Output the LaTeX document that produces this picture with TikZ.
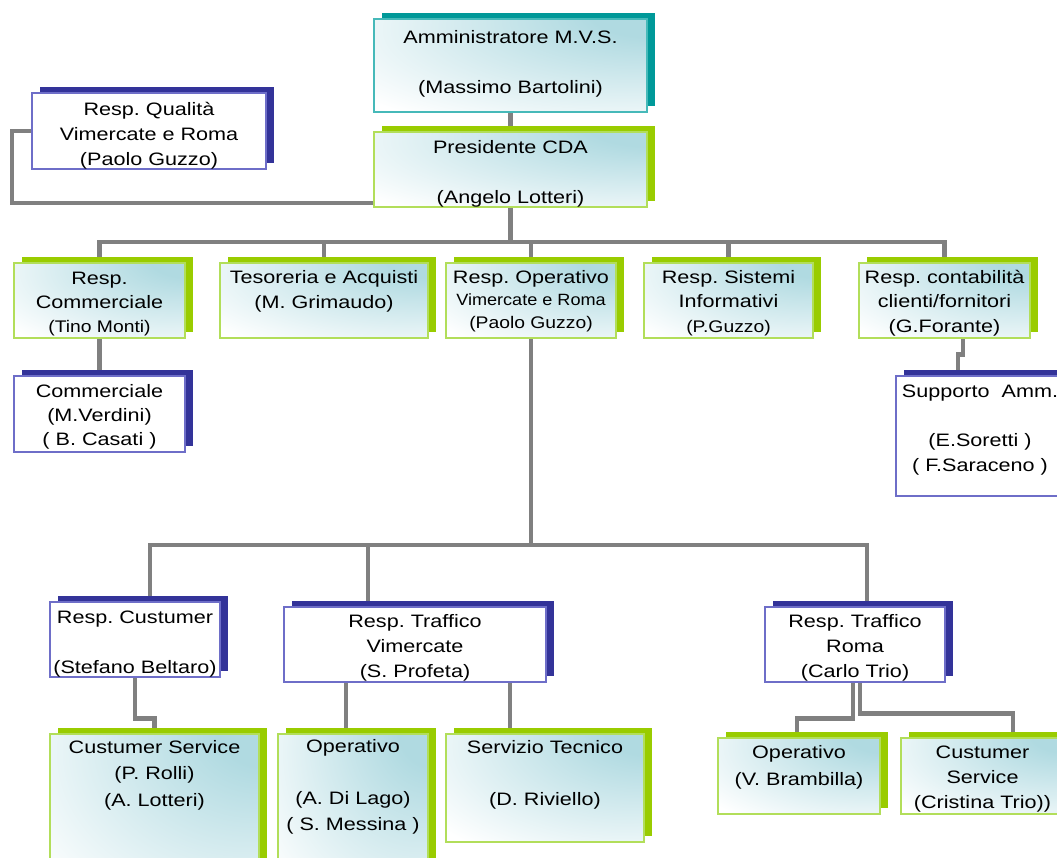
\documentclass[tikz,border=0pt]{standalone}
\usepackage{fontspec}
\setmainfont[FakeStretch=1.2]{Liberation Sans}
\newfontfamily\narfam[FakeStretch=1.15]{Liberation Sans}
\newfontfamily\narfamb[FakeStretch=1.11]{Liberation Sans}
\usetikzlibrary{shadows}
\pgfdeclarelayer{bg}
\pgfsetlayers{bg,main}
\definecolor{cgray}{RGB}{128,128,128}
\definecolor{gshadow}{RGB}{153,204,0}
\definecolor{gborder}{RGB}{178,222,90}
\definecolor{tshadow}{RGB}{0,153,153}
\definecolor{tborder}{RGB}{70,185,185}
\definecolor{nshadow}{RGB}{51,51,153}
\definecolor{nborder}{RGB}{110,110,200}
\definecolor{lteal}{RGB}{176,218,225}
\pgfdeclareradialshading{trshade}{\pgfpoint{30bp}{30bp}}{color(0bp)=(lteal); color(12bp)=(lteal); color(55bp)=(white); color(120bp)=(white)}
\newcommand\hs[1]{\rule{0pt}{#1pt}}
\newcommand\ds[1]{\rule[-#1pt]{0pt}{#1pt}}
\newcommand\narrowtxt{\narfam\fontsize{16.8}{22}\selectfont}
\newcommand\narrowtxtb{\narfamb\fontsize{16.3}{22}\selectfont}
\newcommand\bsk[1]{\fontsize{18}{#1}\selectfont\frenchspacing}
\frenchspacing
\tikzset{
  box/.style={rectangle, inner sep=0pt, align=center, line width=1.4pt, font=\bsk{25}},
  gbox/.style={box, draw=gborder, shade, shading=trshade,
    general shadow={fill=gshadow, shadow xshift=7.5pt, shadow yshift=6pt}},
  tbox/.style={box, draw=tborder, shade, shading=trshade,
    general shadow={fill=tshadow, shadow xshift=7.5pt, shadow yshift=6pt}},
  nbox/.style={box, draw=nborder, fill=white,
    general shadow={fill=nshadow, shadow xshift=7.5pt, shadow yshift=6pt}},
  link/.style={draw=cgray, line width=4.8pt}
}
\begin{document}
\begin{tikzpicture}[x=1pt,y=-1pt]
\useasboundingbox (0,0) rectangle (1057,857);
\begin{pgfonlayer}{bg}
\fill[white] (0,0) rectangle (1057,857);
\end{pgfonlayer}

% top
\node[tbox, minimum width=273pt, minimum height=93pt] (amm) at (510.5,65.5)
  {\hs{14}Amministratore M.V.S.\\ \\(Massimo Bartolini)\ds{9}};
\node[gbox, minimum width=273pt, minimum height=75pt] (pres) at (510.5,169.5)
  {\hs{21}Presidente CDA\\ \\(Angelo Lotteri)\ds{4}};
\node[nbox, minimum width=234pt, minimum height=76pt] (qual) at (149,131)
  {\hs{22}Resp. Qualità\\Vimercate e Roma\\(Paolo Guzzo)\ds{4}};

% row 2
\node[gbox, minimum width=171pt, minimum height=75pt, font=\bsk{24}] (rcomm) at (99.5,300.5)
  {\hs{19}Resp.\\Commerciale\\{\narrowtxt (Tino Monti)}\ds{4}};
\node[gbox, minimum width=208pt, minimum height=75pt] (tes) at (324,300.5)
  {\hs{14}Tesoreria e Acquisti\\(M. Grimaudo)\ds{24}};
\node[gbox, minimum width=170pt, minimum height=75pt, font=\bsk{22.5}] (rop) at (531,300.5)
  {\hs{14}Resp. Operativo\\{\narrowtxtb Vimercate e Roma}\\{\narrowtxt (Paolo Guzzo)}\ds{4}};
\node[gbox, minimum width=169pt, minimum height=75pt, font=\bsk{24.5}] (rsis) at (728.5,300.5)
  {\hs{18}Resp. Sistemi\\Informativi\\{\narrowtxt (P.Guzzo)}\ds{4}};
\node[gbox, minimum width=171pt, minimum height=75pt, font=\bsk{24.5}] (rcont) at (944.5,300.5)
  {\hs{18}Resp. contabilità\\clienti/fornitori\\(G.Forante)\ds{4}};

% row 3
\node[nbox, minimum width=171pt, minimum height=76pt, font=\bsk{24}] (comm) at (99.5,414)
  {\hs{18}Commerciale\\(M.Verdini)\\( B. Casati )\ds{4}};
\node[nbox, minimum width=168pt, minimum height=120pt, font=\bsk{24.67}] (supp) at (980,436)
  {\hs{14}Supporto\ \ Amm.\\ \\(E.Soretti )\\( F.Saraceno )\ds{18}};

% row 4
\node[nbox, minimum width=170pt, minimum height=75pt] (rcust) at (135,639.5)
  {\hs{21}Resp. Custumer\\ \\(Stefano Beltaro)\ds{4}};
\node[nbox, minimum width=262pt, minimum height=75pt] (vim) at (415,644.5)
  {\hs{19}Resp. Traffico\\Vimercate\\(S. Profeta)\ds{4}};
\node[nbox, minimum width=180pt, minimum height=75pt] (roma) at (855,644.5)
  {\hs{19}Resp. Traffico\\Roma\\(Carlo Trio)\ds{4}};

% row 5
\node[gbox, minimum width=209pt, minimum height=166pt, font=\bsk{26.5}] (csr) at (154.5,817)
  {\hs{14}Custumer Service\\(P. Rolli)\\(A. Lotteri)\ds{89}};
\node[gbox, minimum width=150pt, minimum height=166pt, font=\bsk{25.7}] (dilago) at (353,817)
  {\hs{14}Operativo\\ \\(A. Di Lago)\\( S. Messina )\ds{65}};
\node[gbox, minimum width=198pt, minimum height=108pt, font=\bsk{26}] (serv) at (545,788)
  {\hs{14}Servizio Tecnico\\ \\(D. Riviello)\ds{32}};
\node[gbox, minimum width=162pt, minimum height=76pt, font=\bsk{27}] (bram) at (799,776)
  {\hs{14}Operativo\\(V. Brambilla)\ds{23}};
\node[gbox, minimum width=163pt, minimum height=76pt] (cris) at (982.5,776)
  {\hs{18}Custumer\\Service\\(Cristina Trio))\ds{4}};

% connectors
\coordinate (bus1) at (510.5,242);
\coordinate (bus2) at (531,545);
\coordinate (qcorner) at (12,203);
\begin{pgfonlayer}{bg}
\draw[link] (amm) -- (pres);
\draw[link] (pres.south) -- (bus1);
\draw[link] (bus1) -| (rcomm.north);
\draw[link] (bus1) -| (tes.north);
\draw[link] (bus1) -| (rop.north);
\draw[link] (bus1) -| (rsis.north);
\draw[link] (bus1) -| (rcont.north);
\draw[link] (qual.west) -| (qcorner) -- (qcorner -| pres.west);
\draw[link] (rcomm.south) -- (comm.north);
\draw[link] ([xshift=18.5pt]rcont.south) -- ++(0,16) -| ([xshift=-22pt]supp.north);
\draw[link] (rop.south) -- (bus2);
\draw[link] (bus2) -| ([xshift=15pt]rcust.north);
\draw[link] (bus2) -| ([xshift=-47pt]vim.north);
\draw[link] (bus2) -| ([xshift=12pt]roma.north);
\draw[link] (rcust.south) -- ++(0,41) -| (csr.north);
\draw[link] ([xshift=-7pt]dilago.north) -- ([xshift=-7pt]dilago.north |- vim.south);
\draw[link] ([xshift=-35pt]serv.north) -- ([xshift=-35pt]serv.north |- vim.south);
\draw[link] ([xshift=-2pt]roma.south) -- ++(0,36) -| ([xshift=-2pt]bram.north);
\draw[link] ([xshift=5pt]roma.south) -- ++(0,31) -| ([xshift=30.5pt]cris.north);
\end{pgfonlayer}
\end{tikzpicture}
\end{document}
